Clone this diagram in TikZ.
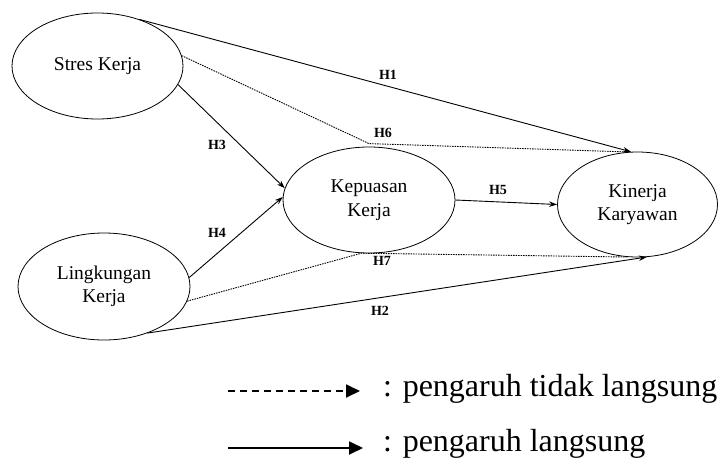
\documentclass[tikz,border=0pt]{standalone}
\usepackage{fontspec}
\setmainfont{Liberation Serif}
\usetikzlibrary{shapes.geometric, arrows.meta}

\begin{document}
\begin{tikzpicture}[x=1pt, y=-1pt, >={Stealth[length=8pt,width=5.5pt]},
    var/.style={ellipse, draw, line width=0.8pt, inner sep=0pt, align=center, font=\fontsize{19.5}{23.5}\selectfont},
    hlab/.style={font=\fontsize{14}{16}\selectfont\bfseries},
    direct/.style={->, line width=0.9pt},
    indirect/.style={line width=0.9pt, dash pattern=on 1.5pt off 1pt},
    legtext/.style={anchor=base west, inner sep=0pt, font=\fontsize{32}{36}\selectfont}]

\useasboundingbox (0,0) rectangle (718,458);

% Variables
\node[var, minimum width=171pt, minimum height=106pt] at (97.5,66) (stres) {Stres Kerja};
\node[var, minimum width=172pt, minimum height=107pt] at (104,286.5) (lingk) {Lingkungan\\Kerja};
\node[var, minimum width=172pt, minimum height=106pt] at (369,200) (kepuasan) {Kepuasan\\Kerja};
\node[var, minimum width=160pt, minimum height=105pt] at (637.5,204.5) (kinerja) {Kinerja\\Karyawan};

% Direct paths
\draw[direct] (stres.48) -- (kinerja.97);
\draw[direct] (stres.-13) -- (kepuasan.172);
\draw[direct] (lingk.6) -- (kepuasan.178);
\draw[direct] (kepuasan.east) -- (kinerja.west);
\draw[direct] (lingk.-47) -- (kinerja.-80);

% Indirect paths (through Kepuasan Kerja)
\draw[indirect] (stres.7) -- ([yshift=3pt]kepuasan.north) -- (kinerja.100);
\draw[indirect] (lingk.-10) -- (kepuasan.262) -- (kinerja.-100);

% Hypotheses
\node[hlab] at (388,75) (h1) {H1};
\node[hlab] at (380,311) (h2) {H2};
\node[hlab] at (217,145) (h3) {H3};
\node[hlab] at (217,233) (h4) {H4};
\node[hlab] at (498,190) (h5) {H5};
\node[hlab] at (383,133) (h6) {H6};
\node[hlab] at (382,261) (h7) {H7};

% Legend
\coordinate (ind1) at (228,391);
\coordinate (ind2) at (360,391);
\draw[line width=1.8pt, dash pattern=on 7pt off 5pt, -{Triangle[length=14pt,width=13pt]}] (ind1) -- (ind2);
\node[legtext] at (383,396) (legind) {: pengaruh tidak langsung};

\coordinate (dir1) at (228,448);
\coordinate (dir2) at (363,448);
\draw[line width=1.8pt, -{Triangle[length=14pt,width=13pt]}] (dir1) -- (dir2);
\node[legtext] at (383,451) (legdir) {: pengaruh langsung};
\end{tikzpicture}
\end{document}
